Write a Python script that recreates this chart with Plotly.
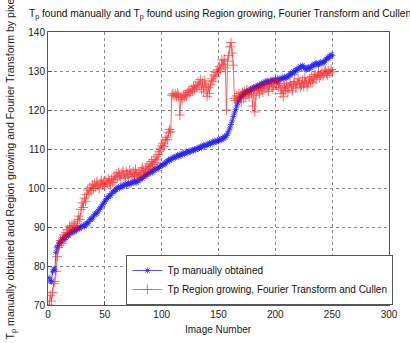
import plotly.graph_objects as go

# Image numbers 1..250
image_number = list(range(1, 251))

# Tp manually obtained (pixels)
tp_manual = [
    77.0, 76.2, 76.0, 78.5, 79.2, 79.0, 83.5, 84.6, 85.3, 86.0,
    86.4, 86.1, 87.0, 87.3, 86.8, 87.6, 88.0, 87.7, 88.3, 88.6,
    88.9, 88.5, 89.1, 89.4, 89.0, 89.6, 89.8, 89.5, 90.0, 90.2,
    90.4, 90.1, 90.7, 91.0, 90.8, 91.4, 91.9, 92.3, 92.0, 92.8,
    93.2, 93.6, 93.4, 94.1, 94.5, 94.9, 95.2, 95.8, 96.1, 96.6,
    97.0, 97.3, 97.8, 98.1, 98.0, 98.6, 99.0, 99.3, 99.1, 99.7,
    100.0, 100.2, 99.9, 100.4, 100.6, 100.3, 100.8, 101.0, 100.7, 101.1,
    101.3, 100.9, 101.2, 101.5, 101.3, 101.8, 101.6, 101.4, 102.0, 101.9,
    102.2, 102.6, 102.4, 102.9, 103.2, 103.0, 103.5, 103.8, 103.6, 104.1,
    104.3, 104.0, 104.6, 104.9, 104.7, 105.2, 105.0, 105.5, 105.8, 105.6,
    106.0, 106.3, 106.1, 106.6, 106.9, 107.2, 107.0, 107.5, 107.3, 107.8,
    108.0, 107.7, 108.2, 108.4, 108.1, 108.6, 108.3, 108.8, 109.0, 108.7,
    109.1, 109.3, 109.0, 109.5, 109.2, 109.6, 109.8, 109.5, 110.0, 109.8,
    110.2, 110.0, 110.4, 110.6, 110.3, 110.8, 111.0, 110.7, 111.1, 110.9,
    111.3, 111.5, 111.2, 111.7, 111.9, 111.6, 112.1, 111.8, 112.3, 112.0,
    112.4, 112.6, 112.3, 112.8, 113.2, 112.9, 113.5, 113.9, 114.6, 115.4,
    116.3, 117.2, 118.3, 119.2, 120.1, 121.0, 121.8, 122.4, 123.1, 123.5,
    123.9, 124.3, 124.0, 124.6, 124.9, 124.5, 125.1, 125.4, 125.0, 125.6,
    125.8, 125.5, 126.0, 126.3, 125.9, 126.5, 126.2, 126.8, 126.6, 127.0,
    127.3, 126.9, 127.5, 127.2, 127.0, 127.6, 127.3, 127.8, 127.5, 127.9,
    127.6, 127.2, 127.8, 128.1, 127.9, 128.3, 128.0, 128.5, 128.2, 128.6,
    128.4, 128.9, 129.3, 129.0, 129.6, 129.9, 129.5, 130.2, 130.6, 130.3,
    130.8, 131.2, 130.9, 131.4, 131.1, 130.6, 130.3, 130.8, 131.0, 130.5,
    130.9, 131.3, 131.6, 131.2, 131.8, 132.1, 131.7, 131.5, 132.0, 132.3,
    131.9, 132.4, 132.2, 132.8, 133.1, 133.5, 133.2, 133.8, 134.2, 134.0,
]

# Tp from Region growing, Fourier Transform and Cullen (pixels)
tp_region = [
    70.0, 72.5, 71.0, 73.2, 75.5, 76.0, 78.6, 82.4, 84.8, 85.2,
    86.5, 85.8, 87.2, 88.0, 87.4, 88.6, 89.3, 88.4, 90.1, 89.5,
    90.4, 89.8, 91.0, 90.3, 89.6, 91.5, 92.8, 91.9, 94.5, 96.2,
    95.0, 97.4, 96.6, 98.3, 99.5, 98.7, 100.2, 99.4, 100.8, 99.9,
    101.0, 100.3, 101.6, 100.7, 99.8, 101.2, 102.0, 100.9, 101.5, 100.4,
    101.9, 101.1, 102.4, 101.6, 100.8, 102.2, 101.4, 103.0, 102.1, 103.6,
    102.8, 104.0, 103.2, 102.5, 103.8, 104.4, 103.1, 102.6, 104.2, 103.5,
    102.9, 104.6, 103.7, 103.0, 104.1, 103.4, 104.8, 103.6, 102.8, 104.0,
    103.3, 104.5, 105.2, 104.1, 103.6, 105.0, 105.6, 104.7, 106.2, 105.4,
    106.8, 106.0, 107.3, 106.5, 108.0, 107.2, 108.6, 109.4, 110.2, 110.8,
    111.5, 110.6, 112.3, 113.0, 112.4, 114.2, 115.0, 114.4, 123.8, 124.2,
    123.6, 124.1, 123.5, 124.3, 123.8, 118.7, 123.2, 122.6, 123.9, 123.4,
    124.0, 123.7, 124.5, 125.0, 124.4, 125.3, 124.8, 126.0, 125.4, 126.3,
    125.7, 127.2, 126.4, 127.8, 125.2, 126.9, 124.6, 127.5, 126.1, 123.5,
    125.8, 124.2, 126.5, 128.0, 127.4, 129.0, 128.5, 129.6, 130.3, 129.8,
    131.2, 130.5, 132.8, 131.6, 133.0, 130.8, 120.0, 132.5, 134.0, 136.2,
    137.3, 134.6, 131.5, 123.0, 122.4, 123.6, 122.8, 124.2, 123.3, 122.1,
    124.5, 123.0, 124.8, 123.6, 125.2, 124.0, 123.3, 125.0, 124.4, 121.0,
    125.4, 119.5, 123.8, 124.9, 125.6, 124.2, 126.0, 125.1, 124.6, 126.3,
    125.5, 126.8, 125.9, 124.8, 126.5, 127.2, 126.0, 125.3, 126.9, 127.6,
    126.4, 127.8, 125.8, 126.9, 124.2, 125.6, 123.4, 126.2, 125.0, 126.7,
    124.6, 125.9, 127.0, 126.2, 124.9, 126.5, 127.3, 125.6, 126.8, 128.0,
    127.1, 125.8, 126.4, 127.6, 126.0, 128.3, 127.2, 125.9, 126.8, 128.0,
    127.4, 128.6, 127.0, 128.4, 129.1, 127.9, 128.8, 129.5, 128.3, 129.0,
    129.6, 128.7, 129.8, 130.2, 129.4, 128.9, 130.1, 129.5, 130.4, 129.8,
]

x_ticks = [0, 50, 100, 150, 200, 250, 300]
y_ticks = [70, 80, 90, 100, 110, 120, 130, 140]

FONT = "Liberation Sans, Arial, sans-serif"

fig = go.Figure()
fig.add_trace(go.Scatter(
    x=image_number, y=tp_manual, mode="lines+markers",
    name="Tp manually obtained",
    opacity=0.85,
    line=dict(color="#0000ff", width=0.8),
    marker=dict(symbol="asterisk-open", size=5, color="#0000ff",
                line=dict(color="#0000ff", width=0.8)),
))
fig.add_trace(go.Scatter(
    x=image_number, y=tp_region, mode="lines+markers",
    name="Tp Region growing, Fourier Transform and Cullen",
    opacity=0.75,
    line=dict(color="#ff0000", width=0.8),
    marker=dict(symbol="cross-thin-open", size=7, color="#ff0000",
                line=dict(color="#ff0000", width=0.8)),
))

axis_common = dict(
    showgrid=True, gridcolor="#888888", griddash="dot", gridwidth=1,
    showline=True, linecolor="#555555", linewidth=1, mirror=True,
    ticks="inside", ticklen=4, tickcolor="#555555",
    tickfont=dict(family=FONT, size=10, color="#222222"),
    zeroline=False,
)

fig.update_layout(
    width=410, height=343,
    margin=dict(l=48, r=15, t=32, b=38),
    paper_bgcolor="white", plot_bgcolor="white",
    showlegend=True,
    legend=dict(
        x=1.013, y=0, xanchor="right", yanchor="bottom",
        bgcolor="white", bordercolor="#555555", borderwidth=1,
        font=dict(family=FONT, size=10, color="#111111"),
        itemwidth=30, tracegroupgap=0,
    ),
    xaxis=dict(range=[0, 300], tickvals=x_ticks, **axis_common),
    yaxis=dict(range=[70, 140], tickvals=y_ticks, **axis_common),
)

# Title
fig.add_annotation(
    text="T<sub>p</sub> found manually and T<sub>p</sub> found using Region growing, Fourier Transform and Cullen",
    xref="paper", yref="paper", x=-0.062, y=1.0, yshift=9,
    xanchor="left", yanchor="bottom", showarrow=False,
    font=dict(family=FONT, size=10.2, color="#111111"),
)
# X axis label
fig.add_annotation(
    text="Image Number", xref="paper", yref="paper",
    x=0.5, y=0, yshift=-17, xanchor="center", yanchor="top",
    showarrow=False, font=dict(family=FONT, size=10, color="#222222"),
)
# Y axis label
fig.add_annotation(
    text="T<sub>p</sub> manually obtained and Region growing and Fourier Transform by pixel",
    xref="paper", yref="paper", x=0, xshift=-38, y=0.5,
    xanchor="center", yanchor="middle", textangle=-90,
    showarrow=False, font=dict(family=FONT, size=10.6, color="#222222"),
)

fig.write_html("out.html")
